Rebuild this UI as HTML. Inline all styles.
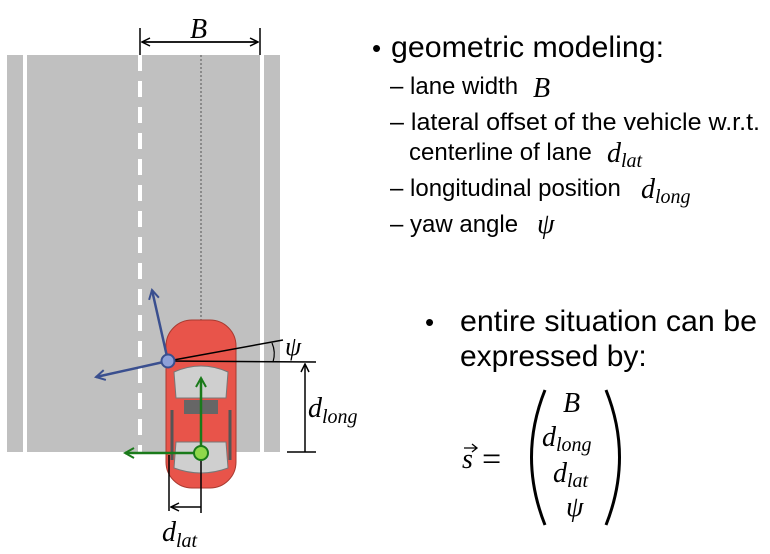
<!DOCTYPE html>
<html><head><meta charset="utf-8"><style>
body{margin:0;background:#fff;width:770px;height:554px;overflow:hidden}
svg{display:block}
.t{font-family:"Liberation Sans",sans-serif;fill:#000}
.m{font-family:"Liberation Serif",serif;font-style:italic;fill:#000}
</style></head><body>
<svg width="770" height="554" viewBox="0 0 770 554">
<defs>
<marker id="ak" markerWidth="10" markerHeight="10" refX="9" refY="5" orient="auto" markerUnits="userSpaceOnUse"><path d="M1,1 L9,5 L1,9" fill="none" stroke="#000" stroke-width="1.5"/></marker>
<marker id="ab" markerWidth="12" markerHeight="12" refX="10" refY="6" orient="auto" markerUnits="userSpaceOnUse"><path d="M1,1 L10,6 L1,11" fill="none" stroke="#3a4f8f" stroke-width="2"/></marker>
<marker id="ag" markerWidth="12" markerHeight="12" refX="10" refY="6" orient="auto" markerUnits="userSpaceOnUse"><path d="M1,1 L10,6 L1,11" fill="none" stroke="#1a7a1a" stroke-width="2"/></marker>
</defs>
<rect x="7" y="55" width="273" height="397" fill="#c0c0c0"/>
<line x1="25" y1="55" x2="25" y2="452" stroke="#fff" stroke-width="4"/>
<line x1="262" y1="55" x2="262" y2="452" stroke="#fff" stroke-width="4"/>
<line x1="140" y1="55" x2="140" y2="452" stroke="#fff" stroke-width="4" stroke-dasharray="16,10"/>
<line x1="201" y1="55" x2="201" y2="320" stroke="#555" stroke-width="1" stroke-dasharray="2,2"/>
<line x1="140" y1="28" x2="140" y2="55" stroke="#000" stroke-width="1.5"/>
<line x1="260" y1="28" x2="260" y2="55" stroke="#000" stroke-width="1.5"/>
<line x1="142" y1="42" x2="258" y2="42" stroke="#000" stroke-width="1.5" marker-end="url(#ak)"/>
<line x1="258" y1="42" x2="142" y2="42" stroke="#000" stroke-width="1.5" marker-end="url(#ak)"/>
<text x="190" y="38" class="m" font-size="28">B</text>
<rect x="166" y="320" width="70" height="168" rx="26" fill="#e8544a" stroke="#a83a30" stroke-width="1"/>
<path d="M174,372 Q201,360 228,372 L226,398 L176,398 Z" fill="#cfcfcf" stroke="#777"/>
<rect x="184" y="400" width="34" height="14" fill="#666"/>
<path d="M176,442 L226,442 L228,468 Q201,478 174,468 Z" fill="#cfcfcf" stroke="#777"/>
<line x1="172" y1="410" x2="172" y2="460" stroke="#555" stroke-width="3"/>
<line x1="230" y1="410" x2="230" y2="460" stroke="#555" stroke-width="3"/>
<line x1="168" y1="361" x2="316" y2="362" stroke="#000" stroke-width="1.5"/>
<line x1="168" y1="361" x2="283" y2="340" stroke="#000" stroke-width="1.5"/>
<path d="M272,343 Q276,352 273,362" fill="none" stroke="#000" stroke-width="1.2"/>
<text x="285" y="355" class="m" font-size="26">ψ</text>
<line x1="287" y1="452" x2="316" y2="452" stroke="#000" stroke-width="1.5"/>
<line x1="305" y1="452" x2="305" y2="364" stroke="#000" stroke-width="1.5" marker-end="url(#ak)"/>
<text x="308" y="417" class="m" font-size="28">d<tspan font-size="20" dy="6">long</tspan></text>
<line x1="169" y1="455" x2="169" y2="511" stroke="#000" stroke-width="1.5"/>
<line x1="201" y1="455" x2="201" y2="513" stroke="#000" stroke-width="1.5"/>
<line x1="201" y1="507" x2="171" y2="507" stroke="#000" stroke-width="1.5" marker-end="url(#ak)"/>
<text x="162" y="541" class="m" font-size="28">d<tspan font-size="20" dy="6">lat</tspan></text>
<line x1="168" y1="361" x2="152" y2="290" stroke="#3a4f8f" stroke-width="2.5" marker-end="url(#ab)"/>
<line x1="168" y1="361" x2="96" y2="377" stroke="#3a4f8f" stroke-width="2.5" marker-end="url(#ab)"/>
<circle cx="168" cy="361" r="6.5" fill="#8ea0d8" stroke="#3a4f8f" stroke-width="2"/>
<line x1="201" y1="453" x2="201" y2="378" stroke="#1a7a1a" stroke-width="2.5" marker-end="url(#ag)"/>
<line x1="201" y1="453" x2="125" y2="453" stroke="#1a7a1a" stroke-width="2.5" marker-end="url(#ag)"/>
<circle cx="201" cy="453" r="7" fill="#8fd84a" stroke="#1a7a1a" stroke-width="2"/>
<text x="372" y="57" class="t" font-size="26">•</text>
<text x="391" y="57" class="t" font-size="30" textLength="273" lengthAdjust="spacingAndGlyphs">geometric modeling:</text>
<text x="390" y="94" class="t" font-size="24">– lane width</text>
<text x="533" y="97" class="m" font-size="28">B</text>
<text x="390" y="130" class="t" font-size="24" textLength="370" lengthAdjust="spacingAndGlyphs">– lateral offset of the vehicle w.r.t.</text>
<text x="409" y="160" class="t" font-size="24">centerline of lane</text>
<text x="607" y="162" class="m" font-size="28">d<tspan font-size="20" dy="5">lat</tspan></text>
<text x="390" y="196" class="t" font-size="24">– longitudinal position</text>
<text x="641" y="198" class="m" font-size="28">d<tspan font-size="20" dy="5">long</tspan></text>
<text x="390" y="232" class="t" font-size="24">– yaw angle</text>
<text x="537" y="233" class="m" font-size="28">ψ</text>
<text x="425" y="331" class="t" font-size="26">•</text>
<text x="460" y="331" class="t" font-size="30" textLength="297" lengthAdjust="spacingAndGlyphs">entire situation can be</text>
<text x="460" y="366" class="t" font-size="30">expressed by:</text>
<text x="462" y="468" class="m" font-size="28">s</text>
<path d="M464,448 L476,448 M472,444 L477,448 L472,452" fill="none" stroke="#000" stroke-width="1.3"/>
<text x="482" y="470" font-family="Liberation Serif,serif" font-size="34">=</text>
<path d="M545,390 Q518,457 545,525" fill="none" stroke="#000" stroke-width="3"/>
<path d="M606,390 Q633,457 606,525" fill="none" stroke="#000" stroke-width="3"/>
<text x="563" y="412" class="m" font-size="28">B</text>
<text x="542" y="446" class="m" font-size="28">d<tspan font-size="20" dy="5">long</tspan></text>
<text x="553" y="482" class="m" font-size="28">d<tspan font-size="20" dy="5">lat</tspan></text>
<text x="566" y="516" class="m" font-size="28">ψ</text>
</svg>
</body></html>
